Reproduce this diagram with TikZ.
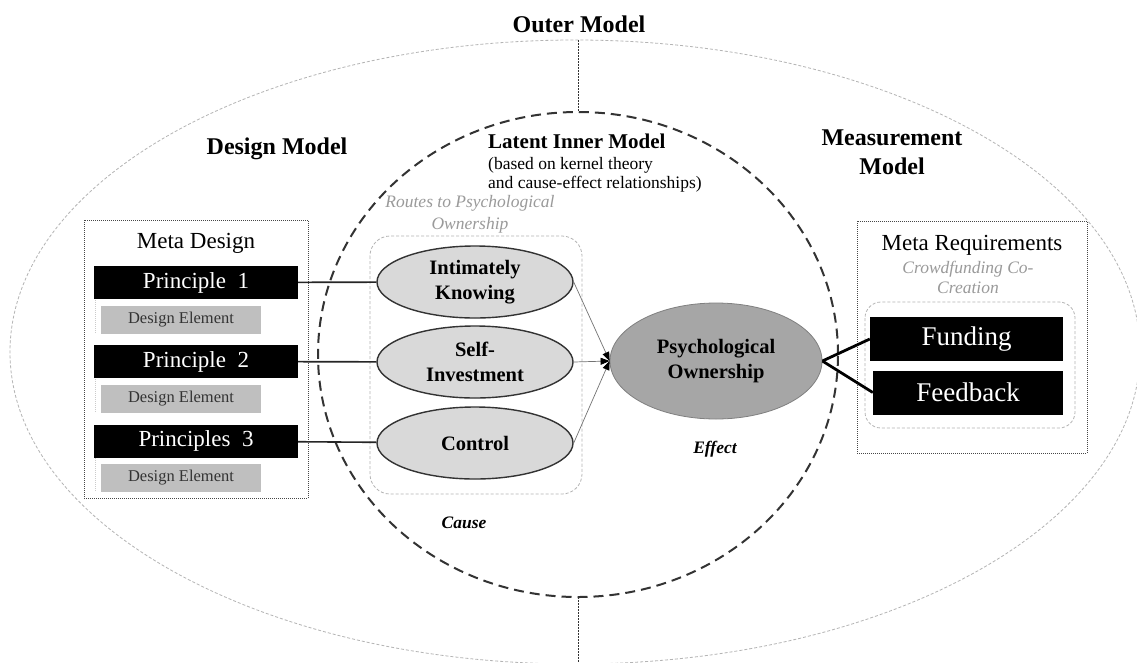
\documentclass[tikz,border=0pt]{standalone}
\usepackage{fontspec}
\setmainfont{Liberation Serif}
\usepackage{tikz}
\usetikzlibrary{arrows.meta, shapes.geometric, positioning}

\definecolor{outergray}{HTML}{B4B4B4}
\definecolor{innergray}{HTML}{333333}
\definecolor{lightfill}{HTML}{D9D9D9}
\definecolor{ownerfill}{HTML}{A6A6A6}
\definecolor{elemfill}{HTML}{BFBFBF}
\definecolor{elemtext}{HTML}{333333}
\definecolor{routegray}{HTML}{9A9A9A}
\newcommand{\fsize}[2]{\fontsize{#1}{#2}\selectfont}

\begin{document}
\begin{tikzpicture}[x=1pt, y=-1pt,
    head/.style={font=\fsize{24}{28}\bfseries, anchor=base, inner sep=0pt},
    subtext/.style={font=\fsize{17.5}{20}, anchor=base west, inner sep=0pt},
    routelabel/.style={font=\fsize{17.5}{21}\itshape, text=routegray, anchor=base, inner sep=0pt},
    boxtitle/.style={font=\fsize{23}{26}, anchor=base, inner sep=0pt},
    tag/.style={font=\fsize{17.5}{20}\bfseries\itshape, anchor=base, inner sep=0pt},
    principle/.style={fill=black, text=white, font=\fsize{23}{26}, minimum width=204pt, minimum height=33pt, inner sep=0pt},
    element/.style={fill=elemfill, text=elemtext, font=\fsize{16.5}{19}, minimum width=160pt, minimum height=28pt, inner sep=0pt},
    route/.style={ellipse, draw=innergray, line width=1.4pt, fill=lightfill, font=\fsize{20.5}{25}\bfseries, align=center, minimum width=196pt, minimum height=72pt, inner sep=0pt},
    owner/.style={ellipse, draw=gray, line width=0.8pt, fill=ownerfill, font=\fsize{20.5}{25}\bfseries, align=center, minimum width=212pt, minimum height=116pt, inner sep=0pt},
    requirement/.style={fill=black, text=white, font=\fsize{27}{30}, minimum width=193pt, minimum height=44pt, inner sep=0pt},
    outerline/.style={draw=outergray, line width=0.8pt, dash pattern=on 3pt off 2pt},
    innerline/.style={draw=innergray, line width=2pt, dash pattern=on 10pt off 6pt},
    axisline/.style={draw=innergray, line width=1pt, dash pattern=on 2pt off 1pt},
    metabox/.style={draw=innergray!90, line width=1pt, dash pattern=on 1pt off 1pt},
    routebox/.style={draw=outergray, line width=0.8pt, dash pattern=on 3pt off 2pt, rounded corners=20pt},
    elemguide/.style={draw=outergray!70, line width=0.8pt, dash pattern=on 1pt off 1pt},
    link/.style={draw=black!85, line width=1.6pt},
    feed/.style={draw=black!55, line width=0.7pt, -{Triangle[length=9pt, width=7pt, color=black]}},
    reqlink/.style={draw=black, line width=2.8pt}
]
\useasboundingbox (0,0) rectangle (1137,662);
\fill[white] (0,0) rectangle (1137,662);

% outer and inner model
\draw[outerline] (575,352) ellipse [x radius=565pt, y radius=312pt];
\draw[innerline] (578,354.5) ellipse [x radius=260pt, y radius=242.5pt];
\coordinate (outertop) at (578,40);
\coordinate (innertop) at (578,112);
\coordinate (innerbottom) at (578,597);
\coordinate (outerbottom) at (578,662);
\draw[axisline] (outertop) -- (innertop);
\draw[axisline] (innerbottom) -- (outerbottom);

% frames
\draw[metabox] (84,220) rectangle (308,498);
\draw[metabox] (857,221) rectangle (1087,453);
\draw[routebox] (370,236) rectangle (582,494);
\draw[routebox, rounded corners=16pt] (865,302) rectangle (1075,428);
\draw[elemguide] (95,300) -- (95,333);
\draw[elemguide] (95,379) -- (95,413);
\draw[elemguide] (95,458) -- (95,492);

% headings
\node[head] (outer) at (579,32) {Outer Model};
\node[head] (design) at (277,154) {Design Model};
\node[head] (measure) at (892,145) {Measurement};
\node[head] (measure2) at (892,174) {Model};
\node[head, font=\fsize{21}{24}\bfseries, anchor=base west] (latent) at (488,148) {Latent Inner Model};
\node[subtext] (kernel) at (488,169) {(based on kernel theory};
\node[subtext] (causeeffect) at (488,188) {and cause-effect relationships)};
\node[routelabel] (routes) at (470,207) {Routes to Psychological};
\node[routelabel] (routes2) at (470,229) {Ownership};
\node[boxtitle] (metadesign) at (196,248) {Meta Design};
\node[boxtitle] (metareq) at (972,250) {Meta Requirements};
\node[routelabel] (crowd) at (968,273) {Crowdfunding Co-};
\node[routelabel] (crowd2) at (968,293) {Creation};
\node[tag] (effect) at (715,453) {Effect};
\node[tag] (cause) at (464,528) {Cause};

% meta design
\node[principle] (p1) at (196,282.5) {Principle\enspace 1};
\node[element] (e1) at (181,319.5) {Design Element};
\node[principle] (p2) at (196,361.5) {Principle\enspace 2};
\node[element] (e2) at (181,399) {Design Element};
\node[principle] (p3) at (196,441) {Principles\enspace 3};
\node[element] (e3) at (181,478) {Design Element};

% routes and effect
\node[route] (ik) at (475,282) {Intimately\\Knowing};
\node[route] (si) at (475,362) {Self-\\Investment};
\node[route] (ctl) at (475,443) {Control};
\node[owner] (po) at (716,361) {Psychological\\Ownership};

% meta requirements
\node[requirement] (fund) at (966.5,339) {Funding};
\node[requirement, minimum width=190pt] (fb) at (968,392.5) {Feedback};

\draw[link] (p1) -- (ik);
\draw[link] (p2) -- (si);
\draw[link] (p3) -- (ctl);
\draw[feed] (ik.east) -- (po.west);
\draw[feed] (si.east) -- (po.west);
\draw[feed] (ctl.east) -- (po.west);
\draw[reqlink] (po.east) -- (fund.west);
\draw[reqlink] (po.east) -- (fb.west);
\end{tikzpicture}
\end{document}
